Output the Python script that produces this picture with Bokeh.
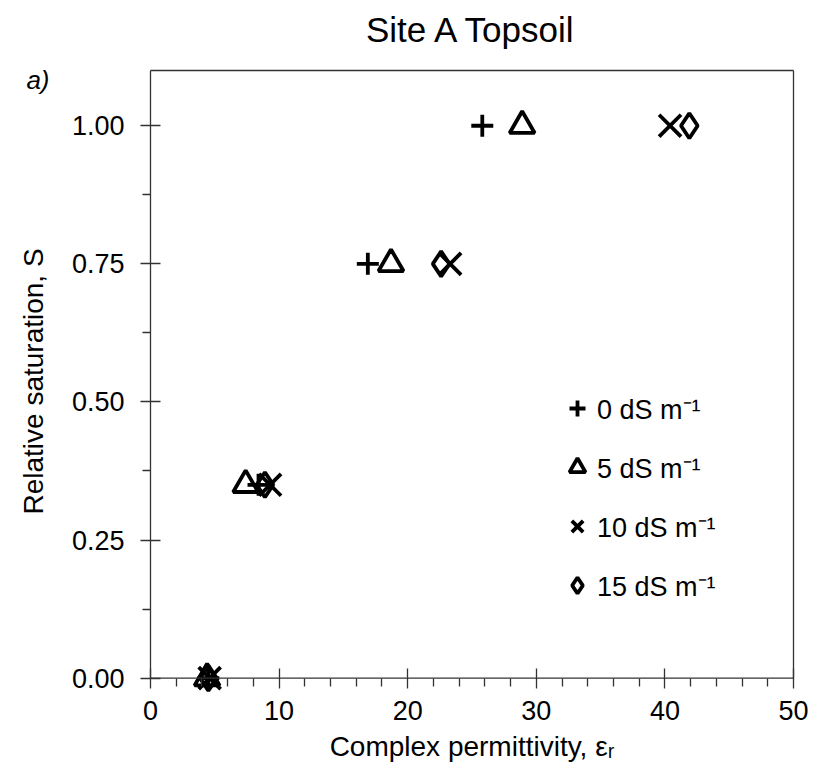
from bokeh.plotting import figure
from bokeh.models import (FixedTicker, NumeralTickFormatter, Range1d, Legend, LegendItem,
                          LinearAxis, Span)
from bokeh.embed import file_html
from bokeh.resources import INLINE

# ---- data ----
saturation = [1.00, 0.75, 0.35, 0.00]
eps_0 = [25.8, 16.9, 8.4, 4.5]
eps_5 = [28.9, 18.7, 7.4, 4.4]
eps_10 = [40.4, 23.3, 9.3, 4.6]
eps_15 = [41.9, 22.6, 8.9, 4.5]
series_labels = ["0 dS m\u207b\u00b9", "5 dS m\u207b\u00b9", "10 dS m\u207b\u00b9", "15 dS m\u207b\u00b9"]
x_ticks = [0, 10, 20, 30, 40, 50]
x_minor = [2, 4, 6, 8, 12, 14, 16, 18, 22, 24, 26, 28, 32, 34, 36, 38, 42, 44, 46, 48]
y_ticks = [0.0, 0.25, 0.5, 0.75, 1.0]
y_minor = [0.125, 0.375, 0.625, 0.875]
chart_title = "Site A Topsoil"
title_pos = 25.0
panel_tag = "a)"
panel_tag_pos = 1.083
x_max = 50
y_max = 1.1

FONT = "Liberation Sans"
AX = "#333333"
LW = 1.3

p = figure(width=808, height=776, output_backend="svg", toolbar_location=None,
           x_range=Range1d(0, x_max), y_range=Range1d(-0.026, y_max),
           min_border_left=150, min_border_right=15, min_border_top=70, min_border_bottom=84)

p.grid.visible = False
p.outline_line_color = None

for ax in (p.xaxis[0], p.yaxis[0]):
    ax.axis_line_color = AX
    ax.axis_line_width = LW
    ax.major_tick_line_color = AX
    ax.minor_tick_line_color = AX
    ax.major_tick_line_width = LW
    ax.minor_tick_line_width = LW
    ax.major_tick_in = 10
    ax.major_tick_out = 10
    ax.minor_tick_in = 0
    ax.minor_tick_out = 8
    ax.major_label_text_font = FONT
    ax.major_label_text_font_size = "27px"
    ax.major_label_text_color = "black"
    ax.axis_label_text_font = FONT
    ax.axis_label_text_font_size = "28px"
    ax.axis_label_text_font_style = "normal"
    ax.axis_label_text_color = "black"

p.xaxis.ticker = FixedTicker(ticks=x_ticks, minor_ticks=x_minor)
p.yaxis.ticker = FixedTicker(ticks=y_ticks, minor_ticks=y_minor)
p.yaxis.formatter = NumeralTickFormatter(format="0.00")
p.yaxis.bounds = (0, y_max)
p.yaxis.major_label_standoff = 16
p.yaxis.axis_label_standoff = 20

# x axis sits at the frame bottom (slightly below 0); ticks shifted up to the 0 line
p.xaxis.axis_line_color = None
p.xaxis.major_tick_in = 24
p.xaxis.major_tick_out = -4
p.xaxis.minor_tick_in = 14
p.xaxis.minor_tick_out = -6
p.xaxis.major_label_standoff = 12
p.xaxis.axis_label = "Complex permittivity, \u03b5\u1d63"
p.yaxis.axis_label = "Relative saturation, S"
p.xaxis.axis_label_standoff = 8

# visible x axis line at S = 0
p.add_layout(Span(location=0, dimension="width", line_color=AX, line_width=LW))

# frame lines on right and top (plain axes without ticks)
for side in ("right", "above"):
    fa = LinearAxis(ticker=FixedTicker(ticks=[]), axis_line_color=AX, axis_line_width=LW,
                    major_tick_in=0, major_tick_out=0, minor_tick_in=0, minor_tick_out=0,
                    major_label_text_font_size="0px")
    if side == "right":
        fa.bounds = (0, y_max)
    p.add_layout(fa, side)

# chart title, drawn as the label of an outer top axis
title_axis = LinearAxis(ticker=FixedTicker(ticks=[title_pos]),
                        major_label_overrides={title_pos: chart_title},
                        axis_line_color=None, major_tick_line_color=None, minor_tick_line_color=None,
                        major_tick_in=0, major_tick_out=0, minor_tick_in=0, minor_tick_out=0,
                        major_label_standoff=22, major_label_text_font=FONT,
                        major_label_text_font_size="35px", major_label_text_color="black")
p.add_layout(title_axis, "above")

# panel tag "a)" placed in the left margin as an outer axis label
tag_axis = LinearAxis(ticker=FixedTicker(ticks=[panel_tag_pos]),
                      major_label_overrides={panel_tag_pos: panel_tag},
                      axis_line_color=None, major_tick_line_color=None, minor_tick_line_color=None,
                      major_tick_in=0, major_tick_out=0, minor_tick_in=0, minor_tick_out=0,
                      major_label_standoff=-35, major_label_text_font=FONT,
                      major_label_text_font_size="26px", major_label_text_font_style="italic",
                      major_label_text_color="black")
p.add_layout(tag_axis, "left")

base = dict(line_color="black", fill_color=None, line_width=3.8)
r0 = p.scatter(eps_0, saturation, marker="cross", size=22, **base)
r5 = p.scatter(eps_5, saturation, marker="triangle", size=25, **base)
r10 = p.scatter(eps_10, saturation, marker="x", size=31, **base)
r15 = p.scatter(eps_15, saturation, marker="diamond", size=25, **base)

legend = Legend(items=[LegendItem(label=series_labels[0], renderers=[r0]),
                       LegendItem(label=series_labels[1], renderers=[r5]),
                       LegendItem(label=series_labels[2], renderers=[r10]),
                       LegendItem(label=series_labels[3], renderers=[r15])],
                location=(407, 87), border_line_color=None, background_fill_color=None,
                padding=0, margin=0, spacing=19, glyph_width=40, glyph_height=40,
                label_standoff=0, label_text_font=FONT, label_text_font_size="27px",
                label_text_color="black")
p.add_layout(legend, "center")

open("out.html", "w").write(file_html(p, INLINE))
